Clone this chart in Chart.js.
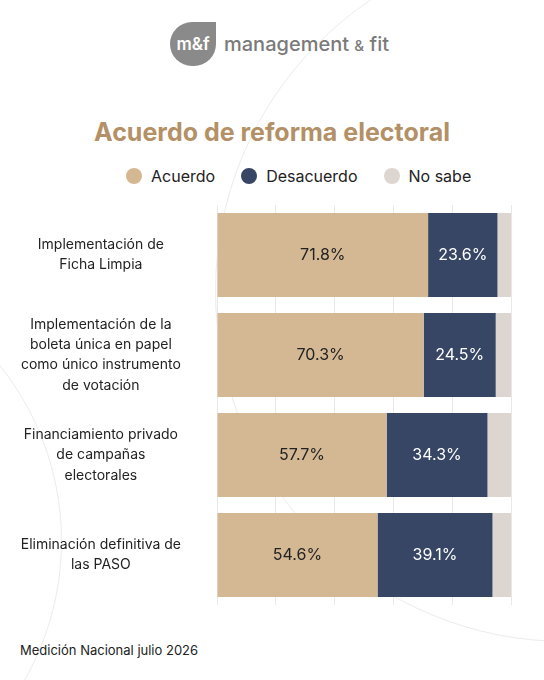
<!DOCTYPE html>
<html>
<head>
<meta charset="utf-8">
<script src="https://cdn.jsdelivr.net/npm/chart.js@4"></script>
<style>
  body { margin: 0; width: 544px; height: 680px; background: #fff; font-family: Inter, "Open Sans", sans-serif; position: relative; overflow: hidden; }
  .ring { position: absolute; border: 1.5px solid #ececec; border-radius: 50%; }
  .logo { position: absolute; top: 22px; left: 170px; display: flex; align-items: center; }
  .logo .mark { width: 46px; height: 44px; background: #8a8a8a; border-radius: 23px 0 23px 23px; color: #fff; font-size: 17px; font-weight: 600; display: flex; align-items: center; justify-content: center; }
  .logo .txt { margin-left: 8px; font-size: 20px; font-weight: 500; color: #7a7a7a; }
  h1 { position: absolute; top: 117px; left: 0; width: 544px; margin: 0; text-align: center; font-size: 25px; font-weight: 700; color: #b39066; }
  .legend { position: absolute; top: 166px; left: 126px; display: flex; font-size: 16px; color: #222; }
  .legend span { display: flex; align-items: center; margin-right: 26px; }
  .legend i { width: 16px; height: 16px; border-radius: 50%; margin-right: 9px; display: inline-block; }
  #myChart { position: absolute; top: 205px; left: 0; }
  .foot { position: absolute; top: 642px; left: 20px; font-size: 13px; color: #222; }
</style>
</head>
<body>
<div class="ring" style="left:215px;top:-60px;width:700px;height:700px"></div>
<div class="ring" style="left:-500px;top:260px;width:560px;height:560px"></div>
<div class="logo"><div class="mark">m&amp;f</div><div class="txt">management <span style="font-size:15px">&amp;</span> fit</div></div>
<h1>Acuerdo de reforma electoral</h1>
<div class="legend">
  <span><i style="background:#d4b894"></i>Acuerdo</span>
  <span><i style="background:#374665"></i>Desacuerdo</span>
  <span><i style="background:#ddd6d0"></i>No sabe</span>
</div>
<canvas id="myChart" width="544" height="400"></canvas>
<div class="foot">Medición Nacional julio 2026</div>
<script>
const categories = [
  ["Implementación de", "Ficha Limpia"],
  ["Implementación de la", "boleta única en papel", "como único instrumento", "de votación"],
  ["Financiamiento privado", "de campañas", "electorales"],
  ["Eliminación definitiva de", "las PASO"]
];
const acuerdo = [71.8, 70.3, 57.7, 54.6];
const desacuerdo = [23.6, 24.5, 34.3, 39.1];
const noSabe = [4.6, 5.2, 8.0, 6.3];

const labelPlugin = {
  id: "barLabels",
  afterDatasetsDraw(chart) {
    const ctx = chart.ctx;
    ctx.save();
    ctx.font = "16px Inter, sans-serif";
    ctx.textAlign = "center";
    ctx.textBaseline = "middle";
    [0, 1].forEach((di) => {
      chart.getDatasetMeta(di).data.forEach((bar, i) => {
        const v = chart.data.datasets[di].data[i];
        ctx.fillStyle = di == 0 ? "#222" : "#fff";
        ctx.fillText(v.toFixed(1) + "%", (bar.x + bar.base) / 2, bar.y);
      });
    });
    ctx.restore();
  }
};

new Chart(document.getElementById("myChart"), {
  type: "bar",
  data: {
    labels: categories,
    datasets: [
      { label: "Acuerdo", data: acuerdo, backgroundColor: "#d4b894" },
      { label: "Desacuerdo", data: desacuerdo, backgroundColor: "#374665" },
      { label: "No sabe", data: noSabe, backgroundColor: "#ddd6d0" }
    ]
  },
  options: {
    indexAxis: "y",
    responsive: false,
    animation: false,
    layout: { padding: { right: 33, top: 0, bottom: 0 } },
    plugins: { legend: { display: false }, tooltip: { enabled: false } },
    datasets: { bar: { categoryPercentage: 0.84, barPercentage: 1 } },
    scales: {
      x: {
        stacked: true, min: 0, max: 100,
        ticks: { display: false, stepSize: 20 },
        grid: { color: "#e8e8e8", drawTicks: false },
        border: { display: false }
      },
      y: {
        stacked: true,
        afterFit: (s) => { s.width = 217; s.paddingTop = 0; s.paddingBottom = 0; },
        grid: { display: false },
        border: { display: false },
        ticks: { color: "#222", font: { size: 14, family: "Inter, sans-serif", lineHeight: 1.45 }, padding: 28, crossAlign: "center" }
      }
    }
  },
  plugins: [labelPlugin]
});
</script>
</body>
</html>
